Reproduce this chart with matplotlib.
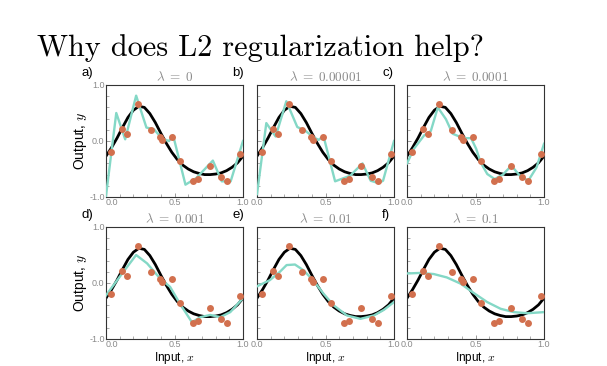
import matplotlib
matplotlib.use('Agg')
import matplotlib.pyplot as plt
from matplotlib.ticker import MultipleLocator

plt.rcParams['font.family'] = ['Liberation Sans', 'DejaVu Sans']
plt.rcParams['mathtext.fontset'] = 'cm'
plt.rcParams['axes.unicode_minus'] = False

############################################################################################################
# data

# training points (same in every panel)
data_x = [0.037, 0.117, 0.156, 0.234, 0.327, 0.395, 0.407, 0.483, 0.537, 0.632, 0.668, 0.761, 0.841, 0.883, 0.976]
data_y = [-0.19, 0.21, 0.12, 0.66, 0.20, 0.07, 0.01, 0.07, -0.35, -0.71, -0.67, -0.44, -0.64, -0.72, -0.24]

# true function (black)
true_x = [0.00, 0.04, 0.08, 0.12, 0.16, 0.20, 0.24, 0.28, 0.32, 0.36, 0.40, 0.44, 0.48,
          0.52, 0.56, 0.60, 0.64, 0.68, 0.72, 0.76, 0.80, 0.84, 0.88, 0.92, 0.96, 1.00]
true_y = [-0.27, -0.12, 0.05, 0.24, 0.42, 0.55, 0.62, 0.60, 0.49, 0.33, 0.14, -0.04, -0.20,
          -0.33, -0.43, -0.50, -0.55, -0.58, -0.60, -0.60, -0.59, -0.57, -0.53, -0.47, -0.39, -0.27]

# fitted models (cyan), one per panel
fit_a_x = [0.0, 0.075, 0.14, 0.22, 0.295, 0.35, 0.41, 0.46, 0.49, 0.58, 0.66, 0.78, 0.845, 0.91, 1.0]
fit_a_y = [-0.98, 0.50, 0.03, 0.81, 0.24, 0.21, 0.04, 0.00, 0.10, -0.78, -0.66, -0.35, -0.72, -0.72, 0.0]

fit_b_x = [0.0, 0.068, 0.136, 0.214, 0.294, 0.355, 0.41, 0.45, 0.485, 0.57, 0.68, 0.77, 0.83, 0.885, 0.92, 1.0]
fit_b_y = [-0.95, 0.32, 0.08, 0.71, 0.25, 0.18, 0.07, 0.02, 0.09, -0.72, -0.62, -0.40, -0.71, -0.75, -0.71, 0.0]

fit_c_x = [0.0, 0.05, 0.125, 0.174, 0.225, 0.284, 0.333, 0.382, 0.43, 0.468, 0.505, 0.537,
           0.586, 0.64, 0.70, 0.762, 0.824, 0.885, 0.946, 1.0]
fit_c_y = [-0.40, -0.14, 0.10, 0.18, 0.60, 0.39, 0.13, 0.08, 0.05, 0.05, -0.14, -0.38,
           -0.59, -0.68, -0.60, -0.44, -0.62, -0.71, -0.47, -0.05]

fit_d_x = [0.0, 0.127, 0.22, 0.30, 0.395, 0.468, 0.54, 0.627, 0.69, 0.76, 0.834, 0.907, 1.0]
fit_d_y = [-0.22, 0.20, 0.50, 0.35, 0.08, -0.07, -0.37, -0.70, -0.61, -0.57, -0.61, -0.52, -0.27]

fit_e_x = [0.0, 0.093, 0.167, 0.216, 0.277, 0.338, 0.41, 0.485, 0.56, 0.657, 0.755, 0.853, 0.926, 1.0]
fit_e_y = [-0.06, 0.05, 0.20, 0.32, 0.33, 0.23, 0.05, -0.19, -0.40, -0.58, -0.64, -0.58, -0.48, -0.34]

fit_f_x = [0.0, 0.098, 0.195, 0.29, 0.39, 0.488, 0.585, 0.683, 0.78, 0.878, 1.0]
fit_f_y = [0.17, 0.18, 0.16, 0.10, -0.01, -0.18, -0.34, -0.46, -0.52, -0.54, -0.52]

fits_x = [fit_a_x, fit_b_x, fit_c_x, fit_d_x, fit_e_x, fit_f_x]
fits_y = [fit_a_y, fit_b_y, fit_c_y, fit_d_y, fit_e_y, fit_f_y]

lambdas = ['0', '0.00001', '0.0001', '0.001', '0.01', '0.1']
panel_labels = ['a)', 'b)', 'c)', 'd)', 'e)', 'f)']

############################################################################################################

W, H = 607, 366
fig = plt.figure(figsize=(W / 100, H / 100), dpi=100)

fig.text(37 / W, 1 - 56 / H, 'Why does L2 regularization help?', family='cmr10',
         fontsize=21.8, va='baseline', ha='left')

col_left = [106, 257, 407]
col_width = 137
row_top = [85, 227]
row_height = 112

fit_color = '#84d8c6'
dot_color = '#d2704e'
gray = '#8a8a8a'

for i in range(6):
    r, c = divmod(i, 3)
    ax = fig.add_axes([col_left[c] / W, 1 - (row_top[r] + row_height) / H, col_width / W, row_height / H])

    ax.plot(true_x, true_y, color='black', lw=2.0, zorder=2)
    ax.plot(fits_x[i], fits_y[i], color=fit_color, lw=1.7, zorder=3)
    ax.plot(data_x, data_y, 'o', color=dot_color, ms=5, mec='none', zorder=4)

    ax.set_xlim(0, 1)
    ax.set_ylim(-1, 1)

    ax.set_xticks([0, 0.5, 1.0], labels=['0.0', '0.5', '1.0'])
    ax.xaxis.set_minor_locator(MultipleLocator(0.1))
    ax.yaxis.set_minor_locator(MultipleLocator(0.2))
    if c == 0:
        ax.set_yticks([-1, 0, 1], labels=['-1.0', '0.0', '1.0'])
        ax.set_ylabel('Output, $y$', fontsize=10)
        ax.yaxis.set_label_coords(-0.125, 0.5)
        # first x label sits right of the axis corner, clear of "-1.0"
        ax.get_xticklabels()[0].set_horizontalalignment('left')
    else:
        ax.set_yticks([-1, 0, 1], labels=[])
    if r == 1:
        ax.set_xlabel('Input, $x$', fontsize=8.5)
        ax.xaxis.set_label_coords(0.5, -0.1)

    ax.tick_params(which='both', direction='in', colors=gray, labelsize=6.5, pad=1,
                   top=False, right=False)
    ax.tick_params(which='major', length=3, width=0.6)
    ax.tick_params(which='minor', length=2, width=0.5)
    for s in ax.spines.values():
        s.set_linewidth(0.8)
        s.set_color('#333333')

    ax.set_title(r'$\lambda\;=\;%s$' % lambdas[i], color=gray, fontsize=9.5, pad=3)
    ax.text(-0.18, 1.05, panel_labels[i], transform=ax.transAxes, fontsize=9.5, va='bottom')

fig.savefig('out.png', dpi=100)
